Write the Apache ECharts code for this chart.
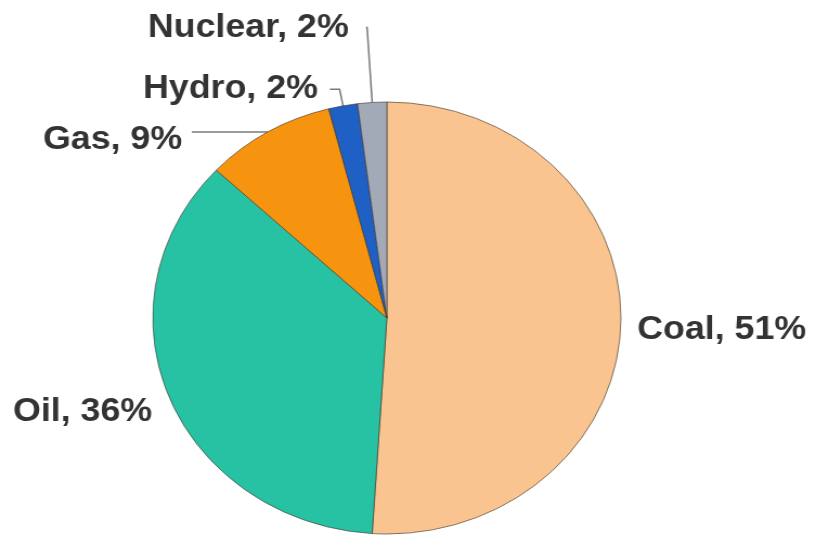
<!DOCTYPE html>
<html>
<head>
<meta charset="utf-8">
<script src="https://cdn.jsdelivr.net/npm/echarts@6/dist/echarts.min.js"></script>
<style>
html,body{margin:0;padding:0;background:#fff;overflow:hidden;}
#main{width:753px;height:539px;transform:scaleX(1.0837);transform-origin:0 0;}
</style>
</head>
<body>
<div id="main"></div>
<script>
const categories = ['Coal', 'Oil', 'Gas', 'Hydro', 'Nuclear'];
const values = [51, 36, 9, 2, 2];
const colors = ['#F9C48F', '#27C1A3', '#F7940F', '#1E60C4', '#A2A9B7'];

const lineLen = [0, 0, 0, 17, 75];
const lineLen2 = [0, 0, 70, 9, 1];
const labelDist = [15, 5, 9, 11, 16];
const showLine = [false, false, true, true, true];

const chart = echarts.init(document.getElementById('main'), null, {renderer: 'canvas'});
chart.setOption({
  animation: false,
  backgroundColor: '#fff',
  series: [{
    type: 'pie',
    center: [357, 318],
    radius: 216,
    startAngle: 90,
    clockwise: true,
    avoidLabelOverlap: false,
    itemStyle: {borderColor: 'rgba(60,50,40,0.6)', borderWidth: 1},
    label: {
      show: true,
      position: 'outside',
      alignTo: 'none',
      edgeDistance: 0,
      formatter: '{b}, {c}%',
      fontFamily: '"Liberation Sans", Arial, sans-serif',
      fontWeight: 'bold',
      fontSize: 33,
      color: '#333'
    },
    labelLine: {lineStyle: {color: '#7a7a7a', width: 1.5}},
    labelLayout: function (p) {
      if (p.dataIndex === 0) return {x: 588, y: 330, align: 'left', verticalAlign: 'middle'};
      if (p.dataIndex === 1) return {x: 12, y: 412, align: 'left', verticalAlign: 'middle'};
      if (p.dataIndex === 2) return {dy: 8};
      return {};
    },
    data: categories.map((c, i) => ({
      name: c,
      value: values[i],
      itemStyle: {color: colors[i]},
      label: {distanceToLabelLine: labelDist[i]},
      labelLine: {show: showLine[i], length: lineLen[i], length2: lineLen2[i]}
    }))
  }]
});
</script>
</body>
</html>
